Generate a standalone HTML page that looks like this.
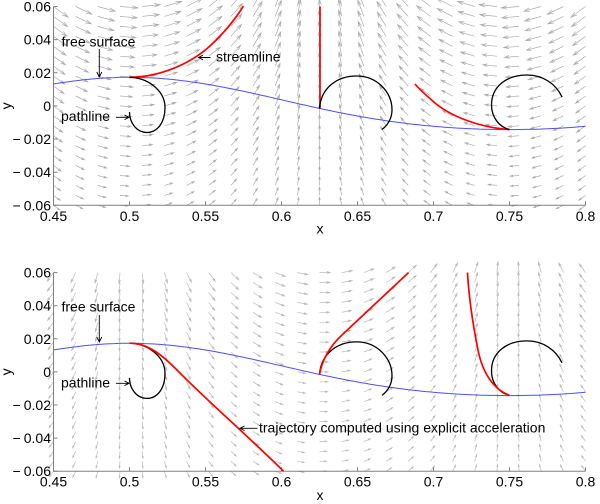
<!DOCTYPE html>
<html>
<head>
<meta charset="utf-8">
<style>
html,body{margin:0;padding:0;background:#fff;}
svg{display:block;}
text{font-family:"Liberation Sans",Arial,sans-serif;font-size:14px;fill:#000;}
</style>
</head>
<body>
<svg id="svg" width="600" height="504" viewBox="0 0 600 504" xmlns="http://www.w3.org/2000/svg">
<rect width="600" height="504" fill="#fff"/>
<!-- quiver fields -->
<path id="q1" fill="none" stroke="#ababab" stroke-width="0.7"/>
<path id="q2" fill="none" stroke="#bababa" stroke-width="0.7"/>

<!-- axes top -->
<g stroke="#808080" stroke-width="1" fill="none">
<path d="M53.5,6.5 L53.5,205.3 L585.5,205.3"/>
<path d="M53.5,205.3v-4 M129.5,205.3v-4 M205.5,205.3v-4 M281.5,205.3v-4 M357.5,205.3v-4 M433.5,205.3v-4 M509.5,205.3v-4 M585.5,205.3v-4"/>
<path d="M53.5,6.5h4 M53.5,39.6h4 M53.5,72.8h4 M53.5,105.9h4 M53.5,139h4 M53.5,172.2h4 M53.5,205.3h4"/>
<!-- axes bottom -->
<path d="M53.5,272.6 L53.5,471.2 L585.5,471.2"/>
<path d="M53.5,471.2v-4 M129.5,471.2v-4 M205.5,471.2v-4 M281.5,471.2v-4 M357.5,471.2v-4 M433.5,471.2v-4 M509.5,471.2v-4 M585.5,471.2v-4"/>
<path d="M53.5,272.6h4 M53.5,305.7h4 M53.5,338.8h4 M53.5,371.9h4 M53.5,405h4 M53.5,438.1h4 M53.5,471.2h4"/>
</g>

<!-- free surfaces -->
<path id="s1" fill="none" stroke="#4d4dff" stroke-width="1" d="M53.5,84 L91.5,79.1 L129.5,77.3 L167.5,79.1 L205.5,84 L243.5,91.3 L281.5,99.8 L319.5,108.4 L357.5,116 L395.5,122 L433.5,126.3 L471.5,128.7 L509.5,129.5 L547.5,128.7 L585.5,126.3"/>
<path id="s2" fill="none" stroke="#4d4dff" stroke-width="1" d="M53.5,349.9 L91.5,345 L129.5,343.2 L167.5,345 L205.5,349.9 L243.5,357.2 L281.5,365.7 L319.5,374.3 L357.5,381.9 L395.5,387.9 L433.5,392.2 L471.5,394.6 L509.5,395.4 L547.5,394.6 L585.5,392.2"/>

<!-- top red streamlines -->
<g fill="none" stroke="#ff0000" stroke-width="1.7">
<path d="M129.5,77.3 C160,77 190,64 210,46 C225,32 236,18 243.5,6"/>
<path d="M320,108.4 L320,6.5"/>
<path d="M509.5,129.5 C480,127.5 452,117 435,103 C427,96 420,90 415,84"/>
</g>
<!-- top pathlines -->
<g fill="none" stroke="#000" stroke-width="1.3">
<path d="M129.5,77.3 C145,77 165,89 165,107.5 C165,123 157,132.5 147,132.5 C136,132.5 129.5,122 129.5,112"/>
<path d="M319.5,108.4 C321,88 337,76 356.5,76 C377,76 392,92 392,110 C392,118 388,125 382,129.5"/>
<path d="M509.5,129.5 C499,127 491.5,117 491.5,105 C491.5,87 506,75 527,75 C543,75 556,84 562,97"/>
</g>
<!-- bottom pathlines -->
<g transform="translate(0,265.9)" fill="none" stroke="#000" stroke-width="1.3">
<path d="M129.5,77.3 C145,77 165,89 165,107.5 C165,123 157,132.5 147,132.5 C136,132.5 129.5,122 129.5,112"/>
<path d="M319.5,108.4 C321,88 337,76 356.5,76 C377,76 392,92 392,110 C392,118 388,125 382,129.5"/>
<path d="M509.5,129.5 C499,127 491.5,117 491.5,105 C491.5,87 506,75 527,75 C543,75 556,84 562,97"/>
</g>
<!-- bottom red trajectories -->
<g fill="none" stroke="#ff0000" stroke-width="1.7">
<path d="M129.5,343.2 C148,343 162,355 178,371 C200,394 250,438 283.5,471.2"/>
<path d="M319.5,374.3 C322,360 330,346 342,335 L408.5,272.6"/>
<path d="M509.5,395.4 C495,390 483,375 478,350 C473,325 469,300 467.5,272.6"/>
</g>

<!-- annotation arrows -->
<g fill="none" stroke="#000" stroke-width="0.9">
<path d="M99.3,49 L99.3,77 M96.8,72 L99.3,77 L101.8,72"/>
<path d="M210.5,57.5 L198.5,57.5 M203,55.2 L198.5,57.5 L203,59.8"/>
<path d="M116,117.3 L129,117.3 M124.5,115 L129,117.3 L124.5,119.6"/>
<path d="M99.3,315 L99.3,342 M96.8,337 L99.3,342 L101.8,337"/>
<path d="M116,383.3 L129,383.3 M124.5,381 L129,383.3 L124.5,385.6"/>
<path d="M257.5,428.3 L240,428.3 M244.5,426 L240,428.3 L244.5,430.6"/>
</g>

<!-- annotation text -->
<text x="61.5" y="46.5">free surface</text>
<text x="216" y="61.5">streamline</text>
<text x="61" y="121">pathline</text>
<text x="61.5" y="311.5">free surface</text>
<text x="61" y="387.3">pathline</text>
<text x="259" y="432.5">trajectory computed using explicit acceleration</text>

<!-- y tick labels -->
<g text-anchor="end">
<text x="51" y="11.5">0.06</text>
<text x="51" y="44.6">0.04</text>
<text x="51" y="77.8">0.02</text>
<text x="51" y="110.9">0</text>
<text x="51" y="144">0.02</text>
<text x="51" y="177.2">0.04</text>
<text x="51" y="210.3">0.06</text>
<text x="51" y="277.6">0.06</text>
<text x="51" y="310.7">0.04</text>
<text x="51" y="343.8">0.02</text>
<text x="51" y="376.9">0</text>
<text x="51" y="410">0.02</text>
<text x="51" y="443.1">0.04</text>
<text x="51" y="476.2">0.06</text>
</g>
<g>
<text x="12.5" y="144">−</text>
<text x="12.5" y="177.2">−</text>
<text x="12.5" y="210.3">−</text>
<text x="12.5" y="410">−</text>
<text x="12.5" y="443.1">−</text>
<text x="12.5" y="476.2">−</text>
</g>

<!-- x tick labels -->
<g text-anchor="middle">
<text x="53.5" y="221">0.45</text>
<text x="129.5" y="221">0.5</text>
<text x="205.5" y="221">0.55</text>
<text x="281.5" y="221">0.6</text>
<text x="357.5" y="221">0.65</text>
<text x="433.5" y="221">0.7</text>
<text x="509.5" y="221">0.75</text>
<text x="585.5" y="221">0.8</text>
<text x="53.5" y="486.7">0.45</text>
<text x="129.5" y="486.7">0.5</text>
<text x="205.5" y="486.7">0.55</text>
<text x="281.5" y="486.7">0.6</text>
<text x="357.5" y="486.7">0.65</text>
<text x="433.5" y="486.7">0.7</text>
<text x="509.5" y="486.7">0.75</text>
<text x="585.5" y="486.7">0.8</text>
<text x="320" y="233.5">x</text>
<text x="320" y="500">x</text>
<text transform="translate(11,105.9) rotate(-90)">y</text>
<text transform="translate(11,371.9) rotate(-90)">y</text>
</g>
</svg>
<script>
(function(){
  function f(v){return v.toFixed(1);}
  function gen(y0, dyp, fn, base, kk){
    var d='';
    for(var i=0;i<25;i++){
      for(var j=0;j<21;j++){
        var X=53.5+i*22.17, Y=y0+j*dyp;
        var x=0.45+(X-53.5)/1520, y=0.06-j*0.006;
        var th=4*Math.PI*(x-0.5);
        var uv=fn(th);
        var L=base*Math.exp(kk*y);
        var ux=uv[0]*L, uy=-uv[1]*L;
        var tx=X+ux, ty=Y+uy;
        var a=0.33,b=0.3;
        var h1x=tx-a*(ux+b*uy), h1y=ty-a*(uy-b*ux);
        var h2x=tx-a*(ux-b*uy), h2y=ty-a*(uy+b*ux);
        d+='M'+f(X)+' '+f(Y)+'L'+f(tx)+' '+f(ty)+'M'+f(h1x)+' '+f(h1y)+'L'+f(tx)+' '+f(ty)+'L'+f(h2x)+' '+f(h2y);
      }
    }
    return d;
  }
  document.getElementById('q1').setAttribute('d',
    gen(6.5, 9.94, function(t){return [Math.cos(t),Math.sin(t)];}, 12, 6.76));
  document.getElementById('q2').setAttribute('d',
    gen(272.6, 9.93, function(t){return [Math.sin(t),-Math.cos(t)];}, 8.5, 4));
  function surf(y0){
    var d='';
    for(var k=0;k<=140;k++){
      var x=0.45+k*0.0025;
      var th=4*Math.PI*(x-0.5);
      var eta=0.0158*Math.cos(th)+0.0015*Math.cos(2*th);
      var X=53.5+(x-0.45)*1520, Y=y0-1655*eta;
      d+=(k?'L':'M')+f(X)+','+f(Y);
    }
    return d;
  }
  document.getElementById('s1').setAttribute('d', surf(105.9));
  document.getElementById('s2').setAttribute('d', surf(371.9));
})();
</script>
</body>
</html>
